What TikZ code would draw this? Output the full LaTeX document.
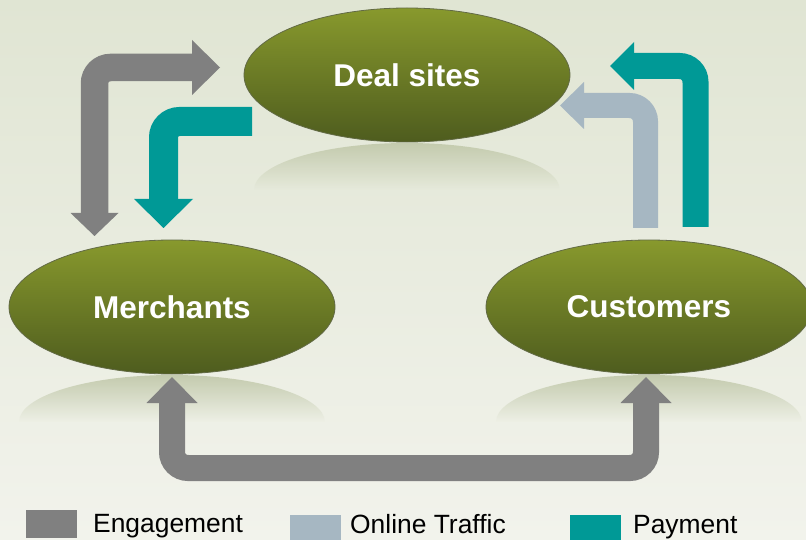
\documentclass[tikz,border=0pt]{standalone}
\usepackage{fontspec}
\setmainfont{Liberation Sans}
\usetikzlibrary{shapes.geometric,fadings}
\definecolor{bgtop}{RGB}{224,229,211}
\definecolor{bgbot}{RGB}{242,243,236}
\definecolor{olivetop}{RGB}{136,153,45}
\definecolor{olivebot}{RGB}{78,92,30}
\definecolor{refl}{RGB}{196,203,174}
\definecolor{enggray}{RGB}{128,128,128}
\definecolor{traffic}{RGB}{166,183,194}
\definecolor{pay}{RGB}{0,153,150}
\begin{document}
\begin{tikzpicture}[x=1pt,y=-1pt,
  hub/.style={ellipse, minimum width=326pt, minimum height=134pt, inner sep=0pt,
    top color=olivetop, bottom color=olivebot, draw=olivebot!60!gray, line width=0.8pt,
    text=white, font=\fontsize{31.5}{36}\selectfont\bfseries},
  shaft/.style={line width=#1, line cap=butt, line join=miter, rounded corners=16pt},
  reflect/.style={fill=refl, path fading=south},
  legbox/.style={minimum width=51pt, minimum height=28pt, inner sep=0pt, anchor=north west},
  legtext/.style={anchor=base west, inner sep=0pt, font=\fontsize{26.4}{30}\selectfont}]
\useasboundingbox (0,0) rectangle (806,540);
\clip (0,0) rectangle (806,540);
\shade[top color=bgtop, bottom color=bgbot] (0,0) rectangle (806,540);

% reflections
\fill[reflect] (254,190) arc[start angle=180, end angle=0, x radius=153pt, y radius=47pt] -- cycle;
\fill[reflect] (19,422) arc[start angle=180, end angle=0, x radius=153pt, y radius=47pt] -- cycle;
\fill[reflect] (496,422) arc[start angle=180, end angle=0, x radius=153pt, y radius=47pt] -- cycle;

% hubs
\node[hub] (deal) at (407,75) {Deal sites};
\node[hub] (merch) at (172,307) {Merchants};
\node[hub] (cust) at (649,307) {Customers};

% engagement: merchants <-> deal sites
\coordinate (g1a) at (94.5,213);
\coordinate (g1b) at (192,67.5);
\draw[enggray, shaft=27.5pt] (g1a) |- (g1b);
\fill[enggray] (g1b) ++(0,-27.5) -- ++(28,27.5) -- ++(-28,27.5) -- cycle;
\fill[enggray] (g1a) ++(-24,0) -- ++(48,0) -- ++(-24,23) -- cycle;

% payment: deal sites -> merchants
\coordinate (p1a) at (252,121.5);
\coordinate (p1b) at (163.5,199);
\draw[pay, shaft=29pt] (p1a) -| (p1b);
\fill[pay] (p1b) ++(-29.5,0) -- ++(59,0) -- ++(-29.5,29) -- cycle;

% payment: customers -> deal sites
\coordinate (p2a) at (695.5,227);
\coordinate (p2b) at (634,66);
\draw[pay, shaft=26pt] (p2a) |- (p2b);
\fill[pay] (p2b) ++(0,-24) -- ++(-24,24) -- ++(24,24) -- cycle;

% online traffic: customers -> deal sites
\coordinate (t1a) at (645.5,228);
\coordinate (t1b) at (584,105.5);
\draw[traffic, shaft=25pt] (t1a) |- (t1b);
\fill[traffic] (t1b) ++(0,-23.5) -- ++(-24,23.5) -- ++(24,23.5) -- cycle;

% engagement: merchants <-> customers
\coordinate (g2a) at (172,403);
\coordinate (g2b) at (646,403);
\coordinate (g2c) at (409,468);
\draw[enggray, shaft=26pt] (g2a) |- (g2c) -| (g2b);
\fill[enggray] (g2a) ++(-25.5,0) -- ++(51,0) -- ++(-25.5,-26) -- cycle;
\fill[enggray] (g2b) ++(-25.5,0) -- ++(51,0) -- ++(-25.5,-26) -- cycle;

% legend
\node[legbox, fill=enggray] (lg1) at (26,510) {};
\node[legtext] (lt1) at (93,532.5) {Engagement};
\node[legbox, fill=traffic] (lg2) at (290,515) {};
\node[legtext] (lt2) at (350,533.5) {Online Traffic};
\node[legbox, fill=pay] (lg3) at (570,515) {};
\node[legtext] (lt3) at (633,533.5) {Payment};
\end{tikzpicture}
\end{document}
